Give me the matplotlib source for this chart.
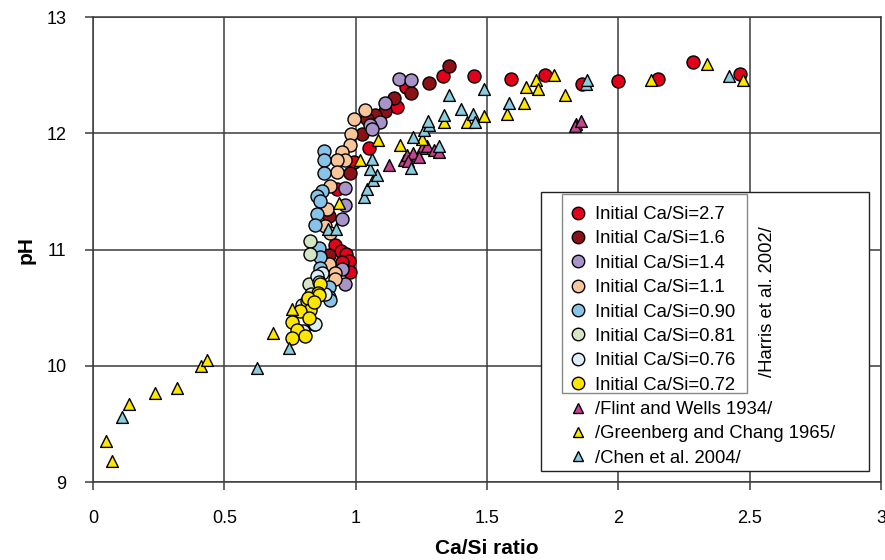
import matplotlib
matplotlib.use("Agg")
import matplotlib.pyplot as plt
from matplotlib.lines import Line2D
from matplotlib.patches import Rectangle

plt.rcParams['font.family'] = ['Liberation Sans', 'DejaVu Sans']

# Harris et al. 2002 leaching series, grouped by initial Ca/Si
red_x = [1.59, 1.72, 1.86, 2.00, 2.15, 2.285, 2.465, 1.45, 1.333, 1.19, 1.158, 1.05, 0.995,
         0.931, 0.923, 0.945, 0.965, 0.973, 0.950, 0.978]
red_y = [12.47, 12.50, 12.42, 12.45, 12.47, 12.61, 12.51, 12.49, 12.49, 12.40, 12.23, 11.87, 11.75,
         11.52, 11.04, 10.99, 10.96, 10.90, 10.89, 10.81]

dred_x = [1.355, 1.281, 1.211, 1.145, 1.113, 1.075, 1.043, 1.024, 0.98, 0.897, 0.90]
dred_y = [12.58, 12.43, 12.35, 12.30, 12.19, 12.16, 12.12, 11.99, 11.66, 11.29, 10.95]

purple_x = [1.164, 1.21, 1.113, 1.094, 1.056, 1.062, 0.958, 0.961, 0.948, 0.948, 0.96]
purple_y = [12.47, 12.46, 12.26, 12.10, 12.07, 12.04, 11.53, 11.38, 11.26, 10.83, 10.70]

peach_x = [1.034, 0.993, 0.984, 0.98, 0.948, 0.961, 0.929, 0.929, 0.904, 0.891, 0.884, 0.904,
           0.897, 0.923, 0.923]
peach_y = [12.20, 12.12, 11.99, 11.90, 11.84, 11.77, 11.77, 11.67, 11.55, 11.35, 11.20, 11.14,
           10.88, 10.80, 10.75]

blue_x = [0.88, 0.88, 0.878, 0.872, 0.853, 0.865, 0.853, 0.846, 0.859, 0.863, 0.865, 0.897,
          0.897, 0.904]
blue_y = [11.85, 11.77, 11.66, 11.50, 11.46, 11.42, 11.31, 11.21, 11.01, 10.94, 10.84, 10.68,
          10.59, 10.57]

green_x = [0.827, 0.827, 0.821, 0.83]
green_y = [11.07, 10.96, 10.70, 10.62]

pale_x = [0.872, 0.853, 0.884, 0.827, 0.84, 0.846, 0.796, 0.86, 0.80]
pale_y = [10.80, 10.77, 10.62, 10.51, 10.36, 10.36, 10.52, 10.72, 10.30]

yel_x = [0.865, 0.855, 0.859, 0.815, 0.817, 0.827, 0.787, 0.821, 0.758, 0.777, 0.808, 0.758, 0.84]
yel_y = [10.70, 10.63, 10.61, 10.56, 10.58, 10.48, 10.47, 10.41, 10.38, 10.31, 10.26, 10.24, 10.55]

# literature data
flint_x = [1.126, 1.183, 1.196, 1.22, 1.253, 1.272, 1.298, 1.316, 1.84, 1.834, 1.857, 1.20, 1.24]
flint_y = [11.73, 11.77, 11.81, 11.83, 11.87, 11.89, 11.86, 11.84, 12.08, 12.06, 12.11, 11.76, 11.80]

green_chang_x = [0.05, 0.071, 0.138, 0.235, 0.32, 0.41, 0.433, 0.686, 0.758, 0.935, 1.015, 1.084,
                 1.17, 1.253, 1.336, 1.424, 1.49, 1.575, 1.64, 1.65, 1.685, 1.694, 1.755, 1.796,
                 2.124, 2.337, 2.473]
green_chang_y = [9.35, 9.18, 9.67, 9.77, 9.81, 10.00, 10.05, 10.28, 10.49, 11.40, 11.77, 11.94,
                 11.90, 11.95, 12.10, 12.10, 12.15, 12.17, 12.26, 12.40, 12.46, 12.38, 12.50, 12.33,
                 12.46, 12.60, 12.46]

chen_x = [0.112, 0.625, 0.745, 0.895, 0.926, 1.03, 1.045, 1.065, 1.08, 1.055, 1.063, 1.21, 1.22,
          1.26, 1.28, 1.275, 1.316, 1.336, 1.357, 1.403, 1.446, 1.456, 1.488, 1.583, 1.876, 1.88, 2.42]
chen_y = [9.56, 9.98, 10.15, 11.18, 11.18, 11.45, 11.52, 11.60, 11.64, 11.69, 11.78, 11.70, 11.97,
          12.03, 12.07, 12.11, 11.89, 12.16, 12.33, 12.21, 12.17, 12.10, 12.38, 12.26, 12.42, 12.46, 12.49]

circles = [
    (red_x, red_y, "#E2001A", "Initial Ca/Si=2.7"),
    (dred_x, dred_y, "#8C1116", "Initial Ca/Si=1.6"),
    (purple_x, purple_y, "#A894C8", "Initial Ca/Si=1.4"),
    (peach_x, peach_y, "#F9C69B", "Initial Ca/Si=1.1"),
    (blue_x, blue_y, "#88C4EA", "Initial Ca/Si=0.90"),
    (green_x, green_y, "#D5E6C4", "Initial Ca/Si=0.81"),
    (pale_x, pale_y, "#DCEFF9", "Initial Ca/Si=0.76"),
    (yel_x, yel_y, "#FFE600", "Initial Ca/Si=0.72"),
]
triangles = [
    (flint_x, flint_y, "#C4448F", "/Flint and Wells 1934/"),
    (green_chang_x, green_chang_y, "#FFE600", "/Greenberg and Chang 1965/"),
    (chen_x, chen_y, "#8BCDE0", "/Chen et al. 2004/"),
]

fig = plt.figure(figsize=(8.85, 5.6), dpi=100)
ax = fig.add_axes([0.105, 0.139, 0.8905, 0.8306])

for x, y, c, lab in circles:
    ax.scatter(x, y, s=88, marker="o", facecolor=c, edgecolor="black", linewidth=1.0, zorder=3)
for x, y, c, lab in triangles:
    ax.scatter(x, y, s=72, marker="^", facecolor=c, edgecolor="black", linewidth=1.0, zorder=4)

ax.set_xlim(0, 3)
ax.set_ylim(9, 13)
ax.set_xticks([0, 0.5, 1, 1.5, 2, 2.5, 3])
ax.set_xticklabels(["0", "0.5", "1", "1.5", "2", "2.5", "3"])
ax.set_yticks([9, 10, 11, 12, 13])
ax.grid(True, color="#3c3c3c", linewidth=1.1)
ax.set_axisbelow(True)
for s in ax.spines.values():
    s.set_color("#3c3c3c")
    s.set_linewidth(1.1)
ax.tick_params(direction="out", length=6, width=1.1, color="#3c3c3c", labelsize=13)
ax.tick_params(axis="y", pad=13)
ax.tick_params(axis="x", pad=14)
ax.set_xlabel("Ca/Si ratio", fontsize=15, fontweight="bold", labelpad=9)
ax.set_ylabel("pH", fontsize=15, fontweight="bold", labelpad=8)

# legend: outer frame, inner frame around the Harris series, rotated reference
fig.patches.append(Rectangle((541 / 885, 1 - 471 / 560), 328 / 885, 279 / 560,
                             transform=fig.transFigure, facecolor="white",
                             edgecolor="#222222", linewidth=1.0, zorder=5))
fig.patches.append(Rectangle((562 / 885, 1 - 393 / 560), 185 / 885, 199 / 560,
                             transform=fig.transFigure, facecolor="none",
                             edgecolor="#888888", linewidth=1.0, zorder=6))
handles = [Line2D([], [], linestyle="none", marker="o", markersize=9, markerfacecolor=c,
                  markeredgecolor="black", markeredgewidth=1.0, label=lab)
           for _, _, c, lab in circles]
handles += [Line2D([], [], linestyle="none", marker="^", markersize=7.5, markerfacecolor=c,
                   markeredgecolor="black", markeredgewidth=1.0, label=lab)
            for _, _, c, lab in triangles]
leg = fig.legend(handles=handles, loc="upper left", bbox_to_anchor=(569 / 885, 1 - 206 / 560),
                 bbox_transform=fig.transFigure, frameon=False, fontsize=13.3,
                 labelspacing=0.4, handlelength=1.0, handletextpad=0.4,
                 borderpad=0, borderaxespad=0)
leg.set_zorder(7)
fig.text(768 / 885, 1 - 302 / 560, "/Harris et al. 2002/", rotation=90, fontsize=13.3,
         ha="center", va="center", zorder=7)

plt.savefig("out.png", dpi=100)
